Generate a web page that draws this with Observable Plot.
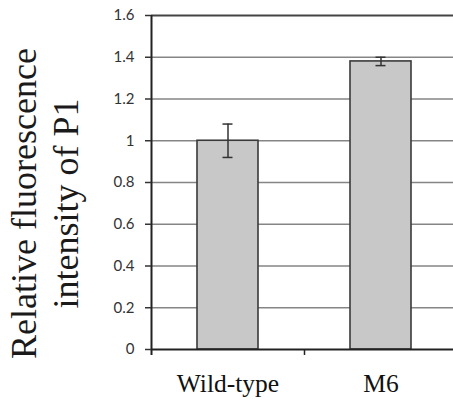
<!DOCTYPE html>
<html><head><meta charset="utf-8">
<script src="https://cdn.jsdelivr.net/npm/d3@7"></script>
<script src="https://cdn.jsdelivr.net/npm/@observablehq/plot@0.6"></script>
<style>body{margin:0;background:#fff;overflow:hidden;}</style>
</head><body><div id="chart"></div>
<script>
const categories = ["Wild-type", "M6"];
const values = [1.0, 1.38];
const errors = [0.08, 0.02];
const yTicks = [0, 0.2, 0.4, 0.6, 0.8, 1, 1.2, 1.4, 1.6];
const gridTicks = [0.2, 0.4, 0.6, 0.8, 1, 1.2, 1.4];
const yMax = 1.6;
const yTitle = "Relative fluorescence\nintensity of P1";

const data = categories.map((c, i) => ({category: c, value: values[i], err: errors[i]}));

const width = 453, height = 403;
const marginLeft = 151, marginRight = -4, marginTop = 15, marginBottom = 54;
const step = (width - marginLeft - marginRight) / categories.length;
const pxPerUnit = (height - marginTop - marginBottom) / yMax;
const tickDrop = 6 / pxPerUnit;
const serif = "'Liberation Serif', 'Times New Roman', serif";
const sans = "Lato, 'Open Sans', sans-serif";

const chart = Plot.plot({
  width, height, marginLeft, marginRight, marginTop, marginBottom,
  style: {background: "#fff", color: "#222"},
  x: {domain: categories, paddingInner: 0.6, paddingOuter: 0.3},
  y: {domain: [0, yMax]},
  marks: [
    Plot.ruleY(gridTicks, {stroke: "#858585", strokeWidth: 1.6}),
    Plot.ruleY([yMax], {stroke: "#444", strokeWidth: 2}),
    Plot.barY(data, {x: "category", y: "value", fill: "#c8c8c8", stroke: "#3a3a3a", strokeWidth: 1.6}),
    Plot.ruleX(data, {x: "category", y1: d => d.value - d.err, y2: d => d.value + d.err, stroke: "#333", strokeWidth: 1.5}),
    Plot.tickY(data, {x: "category", y: d => d.value + d.err, insetLeft: 25.5, insetRight: 25.5, stroke: "#333", strokeWidth: 1.5}),
    Plot.tickY(data, {x: "category", y: d => d.value - d.err, insetLeft: 25.5, insetRight: 25.5, stroke: "#333", strokeWidth: 1.5}),
    Plot.ruleY([0], {stroke: "#222", strokeWidth: 2}),
    Plot.ruleX([categories[0]], {x: d => d, dx: -step / 2, y1: yMax, y2: -tickDrop, stroke: "#222", strokeWidth: 2}),
    Plot.ruleX(categories, {x: d => d, dx: step / 2, y1: 0, y2: -tickDrop, stroke: "#222", strokeWidth: 1.5}),
    Plot.axisY({ticks: yTicks, tickFormat: "~g", tickSize: 6, tickPadding: 11, label: null,
      fontSize: 15, fontFamily: sans, color: "#333", strokeWidth: 1.5}),
    Plot.axisX({tickSize: 0, tickPadding: 24, label: null, fontSize: 25.5, fontFamily: serif, color: "#111"}),
    Plot.text([yTitle], {text: d => d, frameAnchor: "left", textAnchor: "middle", rotate: -90, dx: -108, dy: 21,
      fontSize: 36, fontFamily: serif, lineHeight: 1.17, fill: "#1a1a1a"})
  ]
});
document.getElementById("chart").appendChild(chart);
</script>
</body></html>
